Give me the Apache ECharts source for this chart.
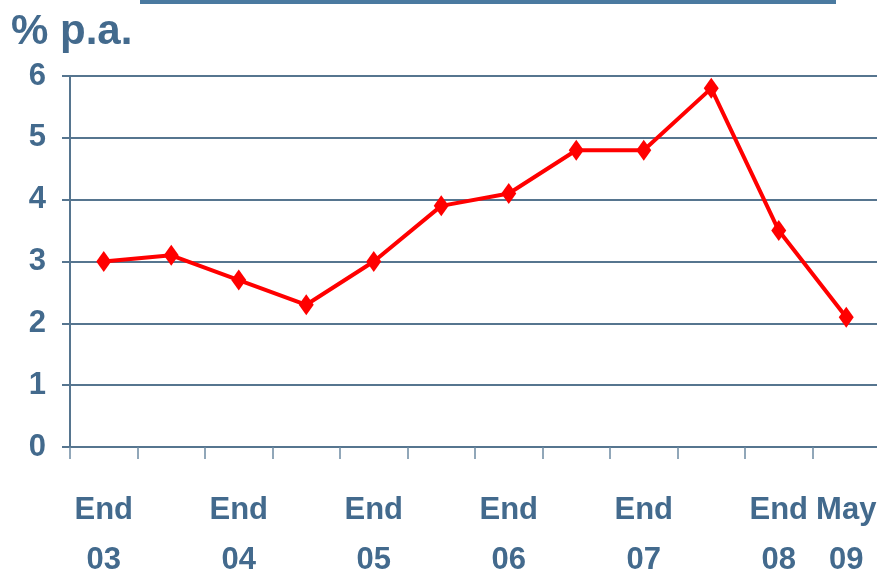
<!DOCTYPE html>
<html>
<head>
<meta charset="utf-8">
<script src="https://cdn.jsdelivr.net/npm/echarts@6/dist/echarts.min.js"></script>
<style>
html,body{margin:0;padding:0;background:#fff;}
#main{width:877px;height:578px;}
</style>
</head>
<body>
<div id="main"></div>
<script>
// 数据
var categories = ['End 03','Mid 04','End 04','Mid 05','End 05','Mid 06','End 06','Mid 07','End 07','Mid 08','End 08','May 09'];
var tickLabels = ['End\n03','','End\n04','','End\n05','','End\n06','','End\n07','','End\n08','May\n09'];
var rates = [3.0, 3.1, 2.7, 2.3, 3.0, 3.9, 4.1, 4.8, 4.8, 5.8, 3.5, 2.1];
var yTicks = [0, 1, 2, 3, 4, 5, 6];

var textColor = '#436a8d';
var lineColor = '#56758f';

var chart = echarts.init(document.getElementById('main'));
chart.setOption({
    animation: false,
    grid: {left: 70, right: -3, top: 76, bottom: 131, outerBoundsMode: 'none', containLabel: false},
    graphic: [
        {type: 'rect', left: 140, top: 0, shape: {width: 696, height: 4}, style: {fill: '#4a7aa0'}},
        {type: 'text', left: 11, top: 11, style: {
            text: '% p.a.', fill: textColor, font: 'bold 42px "Liberation Sans", Arial'
        }}
    ],
    xAxis: {
        type: 'category',
        data: categories,
        boundaryGap: true,
        axisLine: {lineStyle: {color: lineColor, width: 2}},
        axisTick: {show: true, length: 12, interval: 0, lineStyle: {color: '#6d8aa3', width: 1.5}},
        axisLabel: {
            interval: 0,
            margin: 38,
            color: textColor,
            fontFamily: '"Liberation Sans", Arial, sans-serif',
            fontWeight: 'bold',
            fontSize: 31,
            lineHeight: 50,
            formatter: function(v, i) { return tickLabels[i]; }
        }
    },
    yAxis: {
        type: 'value',
        min: yTicks[0],
        max: yTicks[yTicks.length - 1],
        interval: 1,
        axisLine: {show: true, lineStyle: {color: lineColor, width: 2}},
        axisTick: {show: true, length: 8, lineStyle: {color: lineColor, width: 2}},
        splitLine: {lineStyle: {color: lineColor, width: 2}},
        axisLabel: {
            margin: 24,
            color: textColor,
            fontFamily: '"Liberation Sans", Arial, sans-serif',
            fontWeight: 'bold',
            fontSize: 31
        }
    },
    series: [{
        type: 'line',
        data: rates,
        symbol: 'diamond',
        symbolSize: [15, 21],
        lineStyle: {color: '#ff0000', width: 4},
        itemStyle: {color: '#ff0000'}
    }]
});
</script>
</body>
</html>
